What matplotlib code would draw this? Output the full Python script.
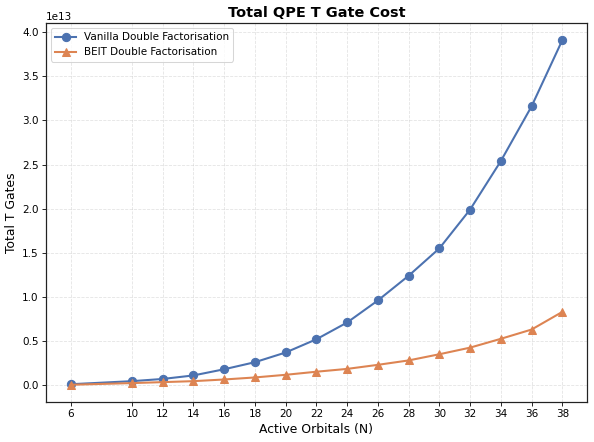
import numpy as np
import matplotlib.pyplot as plt

# active orbitals and total T gate cost (units of 1e13)
orbitals = [6, 10, 12, 14, 16, 18, 20, 22, 24, 26, 28, 30, 32, 34, 36, 38]
vanilla = [0.01, 0.045, 0.07, 0.11, 0.18, 0.26, 0.37, 0.52, 0.71, 0.96,
           1.24, 1.55, 1.99, 2.54, 3.16, 3.91]
beit = [0.004, 0.023, 0.034, 0.045, 0.064, 0.087, 0.117, 0.152, 0.184, 0.23,
        0.28, 0.35, 0.425, 0.525, 0.63, 0.83]

vanilla = np.array(vanilla) * 1e13
beit = np.array(beit) * 1e13

fig, ax = plt.subplots(figsize=(8, 442 / 74.25), dpi=74.25)
ax.plot(orbitals, vanilla, marker='o', color='#4C72B0', lw=2, ms=8,
        label='Vanilla Double Factorisation')
ax.plot(orbitals, beit, marker='^', color='#DD8452', lw=2, ms=8,
        label='BEIT Double Factorisation')

ax.set_xticks(orbitals)
ax.set_title('Total QPE T Gate Cost', fontsize=14, fontweight='bold')
ax.set_xlabel('Active Orbitals (N)', fontsize=12)
ax.set_ylabel('Total T Gates', fontsize=12)
ax.grid(True, linestyle='--', alpha=0.35)
for s in ax.spines.values():
    s.set_linewidth(1.2)
    s.set_color('#222222')
ax.legend(loc='upper left')

fig.subplots_adjust(left=0.0774, right=0.988, top=0.948, bottom=0.0905)
fig.savefig('out.png')
